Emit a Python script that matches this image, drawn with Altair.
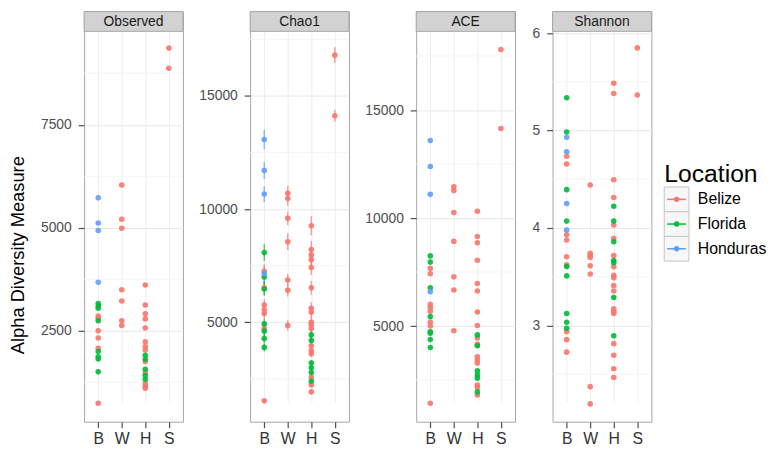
import altair as alt
import pandas as pd

FONT = "Liberation Sans"
SITES = ["B", "W", "H", "S"]
LOCATIONS = ["Belize", "Florida", "Honduras"]
COLORS = ["#F8766D", "#00BA38", "#619CFF"]
METRICS = ["Observed", "Chao1", "ACE", "Shannon"]

OBSERVED = {
    ("B", "Belize"): [2856, 2804, 2500, 2324, 2073, 742],
    ("B", "Florida"): [3162, 3100, 3048, 2742, 1998, 1868, 1815, 1502],
    ("B", "Honduras"): [5726, 5116, 4934, 3678],
    ("W", "Belize"): [6039, 5208, 4988, 3495, 3221, 2742, 2628],
    ("H", "Belize"): [3610, 3123, 2911, 2788, 2568, 2233, 2119, 2035, 1753, 1487, 1222, 1160, 1107],
    ("H", "Florida"): [1906, 1806, 1564, 1411, 1320],
    ("S", "Belize"): [9360, 8870],
}

CHAO1 = {
    ("B", "Belize"): [7250, 6520, 5760, 5550, 5390, 4720, 1530],
    ("B", "Florida"): [8080, 7000, 6470, 4930, 4610, 4280, 3890],
    ("B", "Honduras"): [13075, 11704, 10665, 7150],
    ("W", "Belize"): [10700, 10470, 9597, 8558, 6870, 6413, 4859],
    ("H", "Belize"): [9264, 8213, 7977, 7768, 7423, 6521, 5623, 5440, 5000, 4888, 4722,
                      3961, 3753, 3614, 2573, 2228, 1924],
    ("H", "Florida"): [4443, 4194, 3196, 2989, 2781, 2394],
    ("S", "Belize"): [16803, 14127],
}

CHAO1_SE = {
    ("B", "Belize"): [330, 300, 260, 250, 240, 210, 90],
    ("B", "Florida"): [370, 320, 300, 220, 210, 200, 180],
    ("B", "Honduras"): [420, 380, 350, 320],
    ("W", "Belize"): [330, 320, 300, 360, 280, 270, 230],
    ("H", "Belize"): [420, 380, 360, 350, 340, 300, 260, 250, 230, 220, 220,
                      180, 170, 160, 120, 100, 90],
    ("H", "Florida"): [200, 190, 150, 140, 130, 110],
    ("S", "Belize"): [350, 260],
}

ACE = {
    ("B", "Belize"): [7670, 7421, 6002, 5854, 5680, 5174, 5000, 1429],
    ("B", "Florida"): [8249, 7961, 6768, 5436, 4739, 4665, 4373, 4011],
    ("B", "Honduras"): [13592, 12386, 11097, 6594],
    ("W", "Belize"): [11445, 11271, 10252, 8920, 7278, 6668, 4782],
    ("H", "Belize"): [10313, 9150, 8858, 8049, 6973, 6624, 5653, 5026, 4447, 4155,
                      3575, 3431, 3285, 2270, 2152, 1806],
    ("H", "Florida"): [4591, 4085, 2924, 2735, 2588, 1952],
    ("S", "Belize"): [17804, 14146],
}

SHANNON = {
    ("B", "Belize"): [4.737, 4.657, 3.930, 3.878, 3.705, 3.622, 2.936, 2.855, 2.727],
    ("B", "Florida"): [5.336, 4.986, 4.394, 4.071, 3.605, 3.509, 3.123, 3.033, 2.971],
    ("B", "Honduras"): [4.931, 4.783, 4.252, 3.979],
    ("W", "Belize"): [4.442, 3.740, 3.714, 3.699, 3.612, 3.528, 2.373, 2.196],
    ("H", "Belize"): [5.485, 5.381, 4.496, 4.313, 4.030, 3.892, 3.718, 3.602, 3.515, 3.489,
                      3.409, 3.354, 3.171, 3.145, 3.123, 2.814, 2.695, 2.556, 2.466],
    ("H", "Florida"): [4.223, 4.071, 3.859, 3.666, 3.644, 3.287, 2.894],
    ("S", "Belize"): [5.848, 5.365],
}

DOMAINS = {
    "Observed": [292, 9767],
    "Chao1": [607, 17855],
    "ACE": [571, 18645],
    "Shannon": [2.013, 6.018],
}
TICKS = {
    "Observed": [2500, 5000, 7500],
    "Chao1": [5000, 10000, 15000],
    "ACE": [5000, 10000, 15000],
    "Shannon": [3, 4, 5, 6],
}
MINOR = {
    "Observed": [1250, 3750, 6250, 8750],
    "Chao1": [2500, 7500, 12500, 17500],
    "ACE": [2500, 7500, 12500, 17500],
    "Shannon": [2.5, 3.5, 4.5, 5.5],
}
EXTENTS = {"Chao1": 57, "ACE": 57, "Shannon": 27}

W = 100
STRIP_H = 20
PLOT_H = 395
H = STRIP_H + PLOT_H


def to_frame(values, se=None):
    rows = []
    for loc in LOCATIONS:
        for site in SITES:
            key = (site, loc)
            if key not in values:
                continue
            for i, v in enumerate(values[key]):
                row = {"site": site, "loc": loc, "value": v}
                if se is not None:
                    row["lo"] = v - se[key][i]
                    row["hi"] = v + se[key][i]
                rows.append(row)
    return pd.DataFrame(rows)


color_enc = alt.Color("loc:N", scale=alt.Scale(domain=LOCATIONS, range=COLORS), legend=None)


def panel(metric, frame, first=False, errors=False):
    yscale = alt.Scale(domain=DOMAINS[metric], nice=False, zero=False, range=[H, STRIP_H])
    ax = dict(values=TICKS[metric], format="d", grid=True, gridColor="#E8E8E8", domain=False,
              tickSize=6, tickColor="#4D4D4D", tickWidth=1.2, labelFontSize=14,
              labelColor="#4D4D4D", labelPadding=7, labelFont=FONT)
    if first:
        ax.update(title="Alpha Diversity Measure", titleFontSize=18.5, titleFont=FONT,
                  titleFontWeight="normal", titleColor="#000000", titleAngle=270,
                  titleBaseline="bottom", titleAlign="center", titleX=-57, titleY=246)
    else:
        ax.update(title=None, minExtent=EXTENTS[metric], maxExtent=EXTENTS[metric])
    yaxis = alt.Axis(**ax)
    xenc = alt.X("site:N", scale=alt.Scale(type="point", domain=SITES, padding=0.6),
                 axis=alt.Axis(title=None, grid=True, gridColor="#EDEDED", domain=False,
                               tickSize=6, tickColor="#4D4D4D", tickWidth=1.2, labelFontSize=16,
                               labelColor="#333333", labelPadding=3, labelAngle=0,
                               labelFont=FONT))
    minor = alt.Chart(pd.DataFrame({"value": MINOR[metric]})).mark_rule(
        color="#F5F5F5", strokeWidth=1).encode(y=alt.Y("value:Q", scale=yscale, axis=yaxis))
    layers = [minor]
    if errors:
        err = alt.Chart(frame).mark_rule(strokeWidth=1.5, opacity=0.7).encode(
            x=xenc, y=alt.Y("lo:Q", scale=yscale, axis=yaxis), y2="hi:Q", color=color_enc)
        layers.append(err)
    pts = alt.Chart(frame).mark_circle(size=32, opacity=0.9).encode(
        x=xenc, y=alt.Y("value:Q", scale=yscale, axis=yaxis), color=color_enc)
    layers.append(pts)
    strip_df = pd.DataFrame({"metric": [metric]})
    strip_rect = alt.Chart(strip_df).mark_rect(fill="#D2D2D2", stroke="#A6A6A6", strokeWidth=1).encode(
        x=alt.value(0), x2=alt.value(W), y=alt.value(0), y2=alt.value(STRIP_H))
    strip_text = alt.Chart(strip_df).mark_text(fontSize=14, font=FONT, color="#1A1A1A",
                                               baseline="middle", align="center").encode(
        x=alt.value(W / 2), y=alt.value(STRIP_H / 2 + 1), text="metric:N")
    layers += [strip_rect, strip_text]
    return alt.layer(*layers).properties(width=W, height=H)


p_obs = panel("Observed", to_frame(OBSERVED), first=True)
p_chao = panel("Chao1", to_frame(CHAO1, CHAO1_SE), errors=True)
p_ace = panel("ACE", to_frame(ACE))
p_sha = panel("Shannon", to_frame(SHANNON))

leg_df = pd.DataFrame({"loc": LOCATIONS})
ly = alt.Y("loc:N", scale=alt.Scale(type="point", domain=LOCATIONS, range=[190, 240], padding=0),
           axis=None)
keys = alt.Chart(leg_df).mark_point(shape="square", size=625, filled=True, fill="#F7F7F7",
                                    stroke="#C4C4C4", strokeWidth=1, opacity=1).encode(
    x=alt.value(12.5), y=ly)
lines = alt.Chart(leg_df).mark_rule(strokeWidth=1.5).encode(
    x=alt.value(3), x2=alt.value(22), y=ly, color=color_enc)
dots = alt.Chart(leg_df).mark_circle(size=30, opacity=1).encode(
    x=alt.value(12.5), y=ly, color=color_enc)
labels = alt.Chart(leg_df).mark_text(align="left", baseline="middle", fontSize=16, font=FONT,
                                     color="#000000").encode(
    x=alt.value(34), y=ly, text="loc:N")
ltitle = alt.Chart(pd.DataFrame({"t": ["Location"]})).mark_text(
    align="left", baseline="alphabetic", fontSize=25, font=FONT, color="#000000").encode(
    x=alt.value(0), y=alt.value(172), text="t:N")
legend = alt.layer(keys, lines, dots, labels, ltitle).properties(
    width=106, height=H, view=alt.ViewBackground(stroke="transparent"))

chart = alt.hconcat(p_obs, p_chao, p_ace, p_sha, legend, spacing=9).resolve_scale(
    x="independent", y="independent").properties(padding=0).configure(font=FONT).configure_view(
    stroke="#A6A6A6", strokeWidth=1)

chart.save("out.html", embed_options={"renderer": "svg", "actions": False})
